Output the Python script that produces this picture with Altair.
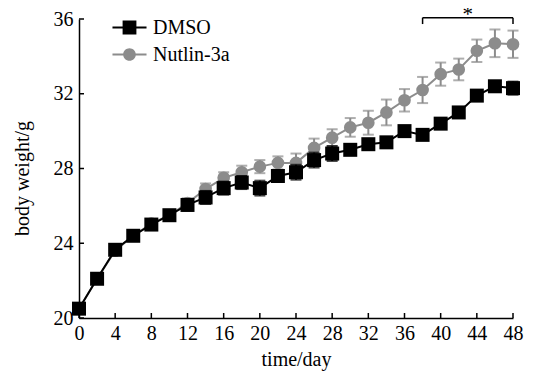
import altair as alt
import pandas as pd

days = list(range(0, 49, 2))
dmso = [20.5, 22.1, 23.65, 24.4, 25.0, 25.5, 26.05, 26.45, 26.95, 27.25, 26.95, 27.6, 27.8,
        28.45, 28.8, 29.0, 29.3, 29.4, 30.0, 29.8, 30.4, 31.0, 31.9, 32.4, 32.3]
dmso_err = [0.15, 0.15, 0.15, 0.15, 0.15, 0.2, 0.3, 0.35, 0.35, 0.35, 0.4, 0.3, 0.4,
            0.4, 0.4, 0.25, 0.2, 0.2, 0.2, 0.2, 0.25, 0.2, 0.2, 0.2, 0.35]
nutlin = [20.5, 22.1, 23.6, 24.4, 25.05, 25.5, 26.15, 26.9, 27.5, 27.8, 28.1, 28.3, 28.3,
          29.1, 29.65, 30.2, 30.45, 31.0, 31.65, 32.2, 33.05, 33.3, 34.3, 34.7, 34.65]
nutlin_err = [0.15, 0.15, 0.15, 0.15, 0.15, 0.2, 0.25, 0.3, 0.3, 0.35, 0.35, 0.35, 0.5,
              0.5, 0.45, 0.5, 0.64, 0.69, 0.6, 0.7, 0.62, 0.58, 0.6, 0.74, 0.73]
series_names = ["DMSO", "Nutlin-3a"]
series_colors = ["#000000", "#8c8c8c"]
x_ticks = list(range(0, 49, 4))
y_ticks = list(range(20, 37, 4))
sig_start, sig_end, sig_y, sig_drop, star_y = 38, 48, 36.07, 35.73, 35.88

FONT = "Liberation Serif"
W, H = 434, 299

rows = []
for name, vals, errs in [("DMSO", dmso, dmso_err), ("Nutlin-3a", nutlin, nutlin_err)]:
    for d, v, e in zip(days, vals, errs):
        rows.append({"day": d, "weight": v, "lo": v - e, "hi": v + e, "series": name})
df = pd.DataFrame(rows)

xs = alt.Scale(domain=[0, 48], nice=False)
ys = alt.Scale(domain=[20, 36], nice=False)
cs = alt.Scale(domain=series_names, range=series_colors)

xaxis = alt.Axis(values=x_ticks, ticks=False, tickSize=0, grid=False, labelPadding=5,
                 labelOverlap=False, labelFlush=False,
                 title="time/day", titleY=47, titleBaseline="alphabetic")
yaxis = alt.Axis(values=y_ticks, ticks=False, tickSize=0, grid=False, labelPadding=6,
                 labelOverlap=False, labelFlush=False,
                 title="body weight/g", titleX=-57, titleY=159, titleBaseline="middle",
                 titleAngle=-90)

base = alt.Chart(df)


def series_layers(name, shape, size):
    b = base.transform_filter(alt.datum.series == name)
    col = alt.Color("series:N", scale=cs, legend=None)
    err = b.mark_rule(strokeWidth=2).encode(
        x=alt.X("day:Q", scale=xs, axis=xaxis), y=alt.Y("lo:Q", scale=ys, axis=yaxis),
        y2="hi:Q", color=col)
    caps_hi = b.mark_tick(orient="horizontal", size=11, thickness=2).encode(
        x=alt.X("day:Q", scale=xs, axis=xaxis), y=alt.Y("hi:Q", scale=ys, axis=yaxis), color=col)
    caps_lo = b.mark_tick(orient="horizontal", size=11, thickness=2).encode(
        x=alt.X("day:Q", scale=xs, axis=xaxis), y=alt.Y("lo:Q", scale=ys, axis=yaxis), color=col)
    line = b.mark_line(strokeWidth=2).encode(
        x=alt.X("day:Q", scale=xs, axis=xaxis), y=alt.Y("weight:Q", scale=ys, axis=yaxis), color=col)
    pts = b.mark_point(filled=True, shape=shape, size=size, opacity=1).encode(
        x=alt.X("day:Q", scale=xs, axis=xaxis), y=alt.Y("weight:Q", scale=ys, axis=yaxis), color=col)
    return [err, caps_hi, caps_lo, line, pts]


layers = series_layers("Nutlin-3a", "circle", 160) + series_layers("DMSO", "square", 196)

# inward axis ticks
xt = alt.Chart(pd.DataFrame({"t": x_ticks})).mark_rule(color="black", strokeWidth=1.5).encode(
    x=alt.X("t:Q", scale=xs, axis=xaxis), y=alt.value(H), y2=alt.value(H - 5))
yt = alt.Chart(pd.DataFrame({"t": y_ticks})).mark_rule(color="black", strokeWidth=1.5).encode(
    y=alt.Y("t:Q", scale=ys, axis=yaxis), x=alt.value(0), x2=alt.value(5))

# significance bracket
br = pd.DataFrame({"a": [sig_start], "b": [sig_end], "y": [sig_y]})
bracket = alt.Chart(br).mark_rule(color="black", strokeWidth=1.5, clip=False).encode(
    x=alt.X("a:Q", scale=xs, axis=xaxis), x2="b:Q", y=alt.Y("y:Q", scale=ys, axis=yaxis))
ends = pd.DataFrame({"x": [sig_start, sig_end], "y1": [sig_drop, sig_drop], "y2": [sig_y, sig_y]})
bracket_ends = alt.Chart(ends).mark_rule(color="black", strokeWidth=1.5, clip=False).encode(
    x=alt.X("x:Q", scale=xs, axis=xaxis), y=alt.Y("y1:Q", scale=ys, axis=yaxis), y2="y2:Q")
star = alt.Chart(pd.DataFrame({"x": [(sig_start + sig_end) / 2], "y": [star_y], "s": ["*"]})).mark_text(
    font=FONT, fontSize=21, color="black", baseline="alphabetic", clip=False).encode(
    x=alt.X("x:Q", scale=xs, axis=xaxis), y=alt.Y("y:Q", scale=ys, axis=yaxis), text="s:N")

# legend (dedicated empty layer, filled custom symbols: line + marker)
sq_path = ("M-1.48,-0.087L1.48,-0.087L1.48,0.087L-1.48,0.087Z"
           "M-0.6,-0.6L0.6,-0.6L0.6,0.6L-0.6,0.6Z")
ci_path = ("M-1.48,-0.087L1.48,-0.087L1.48,0.087L-1.48,0.087Z"
           "M0.55,0A0.55,0.55,0,1,1,-0.55,0A0.55,0.55,0,1,1,0.55,0Z")
leg = alt.Legend(title=None, orient="none", legendX=39, legendY=-3, labelFont=FONT,
                 labelFontSize=20, labelColor="black", symbolSize=529, symbolStrokeWidth=0,
                 labelOffset=12, rowPadding=5, padding=0, symbolOpacity=1)
legend_layer = base.transform_filter("false").mark_point(filled=True, opacity=1).encode(
    x=alt.X("day:Q", scale=xs, axis=xaxis), y=alt.Y("weight:Q", scale=ys, axis=yaxis),
    color=alt.Color("series:N", scale=alt.Scale(domain=series_names, range=series_colors), legend=leg),
    shape=alt.Shape("series:N", scale=alt.Scale(domain=series_names, range=[sq_path, ci_path]), legend=leg),
)

chart = alt.layer(xt, yt, *layers, bracket, bracket_ends, star, legend_layer).resolve_scale(
    shape="independent", color="independent"
).properties(
    width=W, height=H, background="white",
    autosize=alt.AutoSizeParams(type="none"),
    padding={"left": 71, "top": 11, "right": 13, "bottom": 56},
).configure_view(stroke=None).configure_axis(
    domainColor="black", domainWidth=1.5, labelColor="black", labelFont=FONT,
    labelFontSize=20, titleFont=FONT, titleFontSize=20, titleFontWeight="normal",
    titleColor="black",
)

chart.save("out.html", embed_options={"renderer": "svg", "actions": False})
